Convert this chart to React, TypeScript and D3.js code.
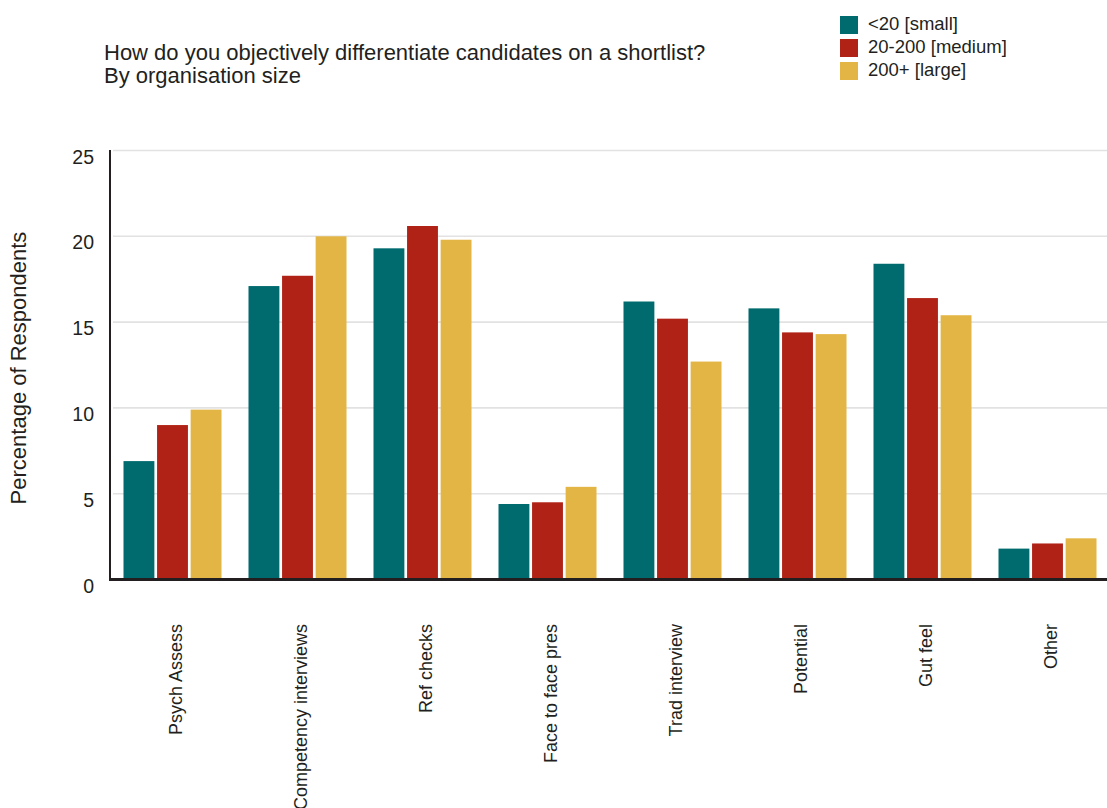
import React from "react";
import * as d3 from "d3";

const categories = [
  "Psych Assess",
  "Competency interviews",
  "Ref checks",
  "Face to face pres",
  "Trad interview",
  "Potential",
  "Gut feel",
  "Other",
];
const seriesNames = ["<20 [small]", "20-200 [medium]", "200+ [large]"];
const small = [6.9, 17.1, 19.3, 4.4, 16.2, 15.8, 18.4, 1.8];
const medium = [9.0, 17.7, 20.6, 4.5, 15.2, 14.4, 16.4, 2.1];
const large = [9.9, 20.0, 19.8, 5.4, 12.7, 14.3, 15.4, 2.4];
const yTicks = [0, 5, 10, 15, 20, 25];
const colors = ["#006b6e", "#b02216", "#e3b545"];

const title1 = "How do you objectively differentiate candidates on a shortlist?";
const title2 = "By organisation size";
const yTitle = "Percentage of Respondents";

export default function App() {
  const W = 1107;
  const H = 808;
  const font = "'Liberation Sans', Arial, Helvetica, sans-serif";
  const series = [small, medium, large];

  const x0 = d3
    .scaleBand<string>()
    .domain(categories)
    .range([110, 1110])
    .paddingInner(0.216)
    .paddingOuter(0.108);
  const x1 = d3
    .scaleBand<number>()
    .domain([0, 1, 2])
    .range([0, x0.bandwidth()])
    .paddingInner(0.08);
  const y = d3.scaleLinear().domain([0, 25]).range([579.5, 150.5]);

  return (
    <svg
      width={W}
      height={H}
      style={{ position: "absolute", left: 0, top: 0, background: "#fff" }}
      fontFamily={font}
    >
      <rect x={0} y={0} width={W} height={H} fill="#fff" />
      {yTicks
        .filter((t) => t > 0)
        .map((t) => (
          <line
            key={"g" + t}
            x1={113}
            x2={W}
            y1={y(t)}
            y2={y(t)}
            stroke="#e2e2e2"
            strokeWidth={1.6}
          />
        ))}
      {categories.map((c, i) => (
        <g key={c} transform={`translate(${x0(c)},0)`}>
          {series.map((s, k) => (
            <rect
              key={k}
              x={x1(k)}
              y={y(s[i])}
              width={x1.bandwidth()}
              height={y(0) - y(s[i])}
              fill={colors[k]}
            />
          ))}
        </g>
      ))}
      <line x1={110} x2={110} y1={150} y2={580} stroke="#231f20" strokeWidth={2} />
      <line x1={109} x2={W} y1={579.5} y2={579.5} stroke="#231f20" strokeWidth={3} />
      {yTicks.map((t) => (
        <text
          key={"t" + t}
          x={94}
          y={y(t) + 8}
          textAnchor="end"
          dominantBaseline="middle"
          fontSize={19.5}
          fill="#231f20"
        >
          {t}
        </text>
      ))}
      {categories.map((c) => {
        const cx = (x0(c) as number) + x0.bandwidth() / 2 + 5;
        return (
          <text
            key={"x" + c}
            transform={`translate(${cx},624) rotate(-90)`}
            textAnchor="end"
            dominantBaseline="middle"
            fontSize={18}
            fill="#231f20"
          >
            {c}
          </text>
        );
      })}
      <text
        transform={`translate(20,368) rotate(-90)`}
        textAnchor="middle"
        dominantBaseline="middle"
        fontSize={22}
        fill="#231f20"
      >
        {yTitle}
      </text>
      <text x={104} y={60} fontSize={22} fill="#231f20">
        {title1}
      </text>
      <text x={104} y={83} fontSize={22} fill="#231f20">
        {title2}
      </text>
      {seriesNames.map((n, k) => (
        <g key={n} transform={`translate(840,${16 + k * 23})`}>
          <rect x={0} y={0} width={18} height={18} fill={colors[k]} />
          <text x={28} y={9.5} dominantBaseline="middle" fontSize={18.5} fill="#231f20">
            {n}
          </text>
        </g>
      ))}
    </svg>
  );
}
